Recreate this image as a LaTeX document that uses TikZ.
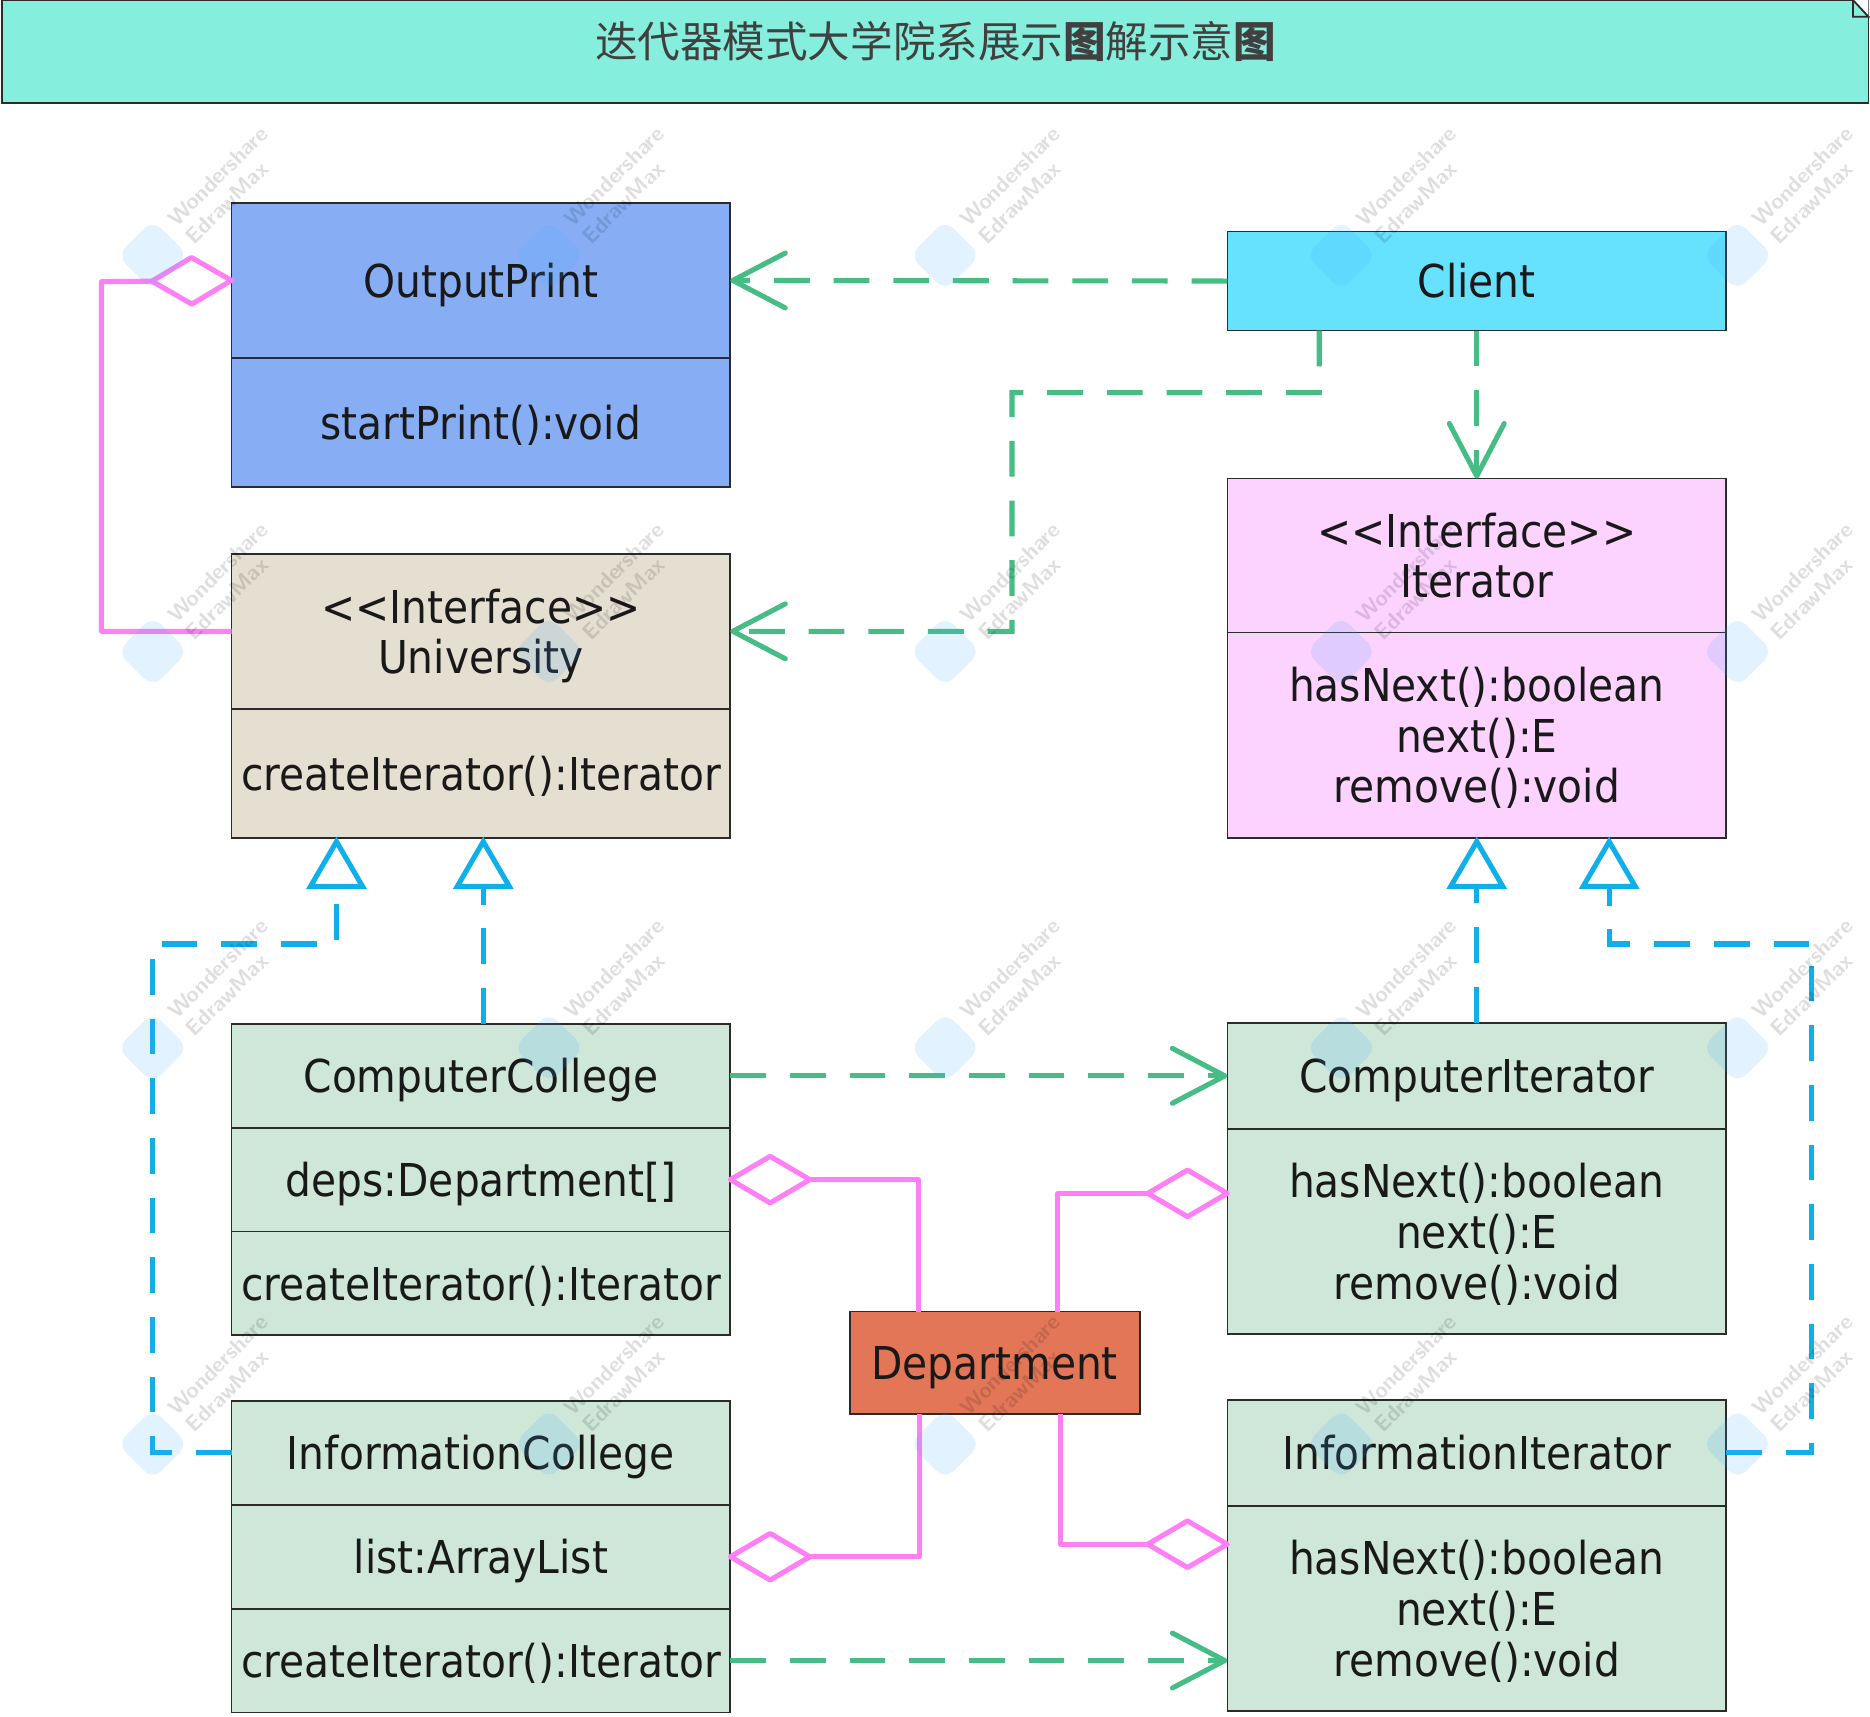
\documentclass[tikz,border=0pt]{standalone}
\usepackage{fontspec}
\setmainfont{DejaVu Sans Condensed}
\newfontfamily\cjk{Noto Sans CJK SC}
\usetikzlibrary{positioning,arrows.meta}
\definecolor{titlecol}{HTML}{85EEDC}
\definecolor{printcol}{HTML}{87AEF5}
\definecolor{clientcol}{HTML}{66E2FF}
\definecolor{univcol}{HTML}{E5DFD1}
\definecolor{itercol}{HTML}{FCD2FF}
\definecolor{implcol}{HTML}{CEE7D9}
\definecolor{deptcol}{HTML}{E27657}
\definecolor{boxline}{HTML}{2B2B2B}
\definecolor{deplinecol}{HTML}{46BD85}
\definecolor{aggrcol}{HTML}{FF80F5}
\definecolor{reallinecol}{HTML}{0FB0EA}
\definecolor{markcol}{HTML}{3FA9FF}
\newcommand{\firstline}{\rule{0pt}{21.3pt}}
\newcommand{\methods}{\firstline hasNext():boolean\\next():E\\remove():void}
\newcommand{\stereotype}{\firstline <{}<Interface>{}>}
\tikzset{
	umlbox/.style={draw=boxline,line width=0.03cm,minimum width=8.36cm,inner sep=0pt,outer sep=0pt,align=center,text=black!90,font=\fontsize{21.6}{24.2}\selectfont,
		execute at begin node={\rule{0pt}{21pt}},execute at end node={\rule[-5pt]{0pt}{5pt}}},
	depline/.style={draw=deplinecol,line width=0.085cm,dash pattern=on 0.6cm off 0.4cm,-{Straight Barb[round,length=0.88cm,width=0.92cm]}},
	aggrline/.style={draw=aggrcol,line width=0.085cm,line join=round,-{Diamond[open,fill=white,round,length=1.5cm,width=0.88cm,sep=-0.04cm]}},
	realline/.style={draw=reallinecol,line width=0.085cm,dash pattern=on 0.6cm off 0.4cm,-{Triangle[open,fill=white,length=0.88cm,width=1cm,sep=-0.02cm]}},
}
\begin{document}
\begin{tikzpicture}[x=0.02cm,y=-0.02cm]
	\useasboundingbox (0,0) rectangle (1567,1438);
	% title
	\node[draw=boxline,line width=0.03cm,fill=titlecol,minimum width=31.28cm,minimum height=1.72cm,inner sep=0pt,outer sep=0pt,anchor=north west] (title) at (2,0) {};
	\node[font=\cjk\fontsize{20.3}{24}\selectfont,text=black!75,inner sep=0pt] (titletext) at (784,35) {迭代器模式大学院系展示{\bfseries 图}解示意{\bfseries 图}};
	\fill[white] (title.north east) -- ++(-13,0) -- ++(13,14) -- cycle;
	\draw[boxline,line width=0.03cm] ([xshift=-0.26cm]title.north east) -- ++(0,14) -- ++(13,0) -- cycle;
	% left column
	\node[umlbox,fill=printcol,minimum height=2.6cm,anchor=north west] (printhead) at (194,170) {OutputPrint};
	\node[umlbox,fill=printcol,minimum height=2.16cm,below=0pt of printhead] (printbody) {startPrint():void};
	\node[umlbox,fill=univcol,minimum height=2.6cm,anchor=north west] (univhead) at (194,464) {\stereotype\\University};
	\node[umlbox,fill=univcol,minimum height=2.16cm,below=0pt of univhead] (univbody) {createIterator():Iterator};
	\node[umlbox,fill=implcol,minimum height=1.74cm,anchor=north west] (cchead) at (194,858) {ComputerCollege};
	\node[umlbox,fill=implcol,minimum height=1.74cm,below=0pt of cchead] (ccdeps) {deps:Department[]};
	\node[umlbox,fill=implcol,minimum height=1.74cm,below=0pt of ccdeps] (ccbody) {createIterator():Iterator};
	\node[umlbox,fill=implcol,minimum height=1.74cm,anchor=north west] (ichead) at (194,1174) {InformationCollege};
	\node[umlbox,fill=implcol,minimum height=1.74cm,below=0pt of ichead] (iclist) {list:ArrayList};
	\node[umlbox,fill=implcol,minimum height=1.74cm,below=0pt of iclist] (icbody) {createIterator():Iterator};
	% right column
	\node[umlbox,fill=clientcol,minimum height=1.66cm,anchor=north west] (client) at (1028.5,194) {Client};
	\node[umlbox,fill=itercol,minimum height=2.58cm,anchor=north west] (iterhead) at (1028.5,401) {\stereotype\\Iterator};
	\node[umlbox,fill=itercol,minimum height=3.44cm,below=0pt of iterhead] (iterbody) {\methods};
	\node[umlbox,fill=implcol,minimum height=1.78cm,anchor=north west] (cihead) at (1028.5,857) {ComputerIterator};
	\node[umlbox,fill=implcol,minimum height=3.44cm,below=0pt of cihead] (cibody) {\methods};
	\node[umlbox,fill=implcol,minimum height=1.78cm,anchor=north west] (iihead) at (1028.5,1173) {InformationIterator};
	\node[umlbox,fill=implcol,minimum height=3.44cm,below=0pt of iihead] (iibody) {\methods};
	\node[umlbox,fill=deptcol,minimum width=4.86cm,minimum height=1.72cm,anchor=north west] (dept) at (712,1099) {Department};
	% dependencies
	\draw[depline] (client.west) -- (printhead.east);
	\draw[depline] ([xshift=-2.64cm]client.south) -- ++(0,52) -| (848,529) -- (univhead.east);
	\draw[depline] (client.south) -- (iterhead.north);
	\draw[depline] (cchead.east) -- (cchead.east -| cihead.west);
	\draw[depline] (icbody.east) -- (icbody.east -| iibody.west);
	% aggregations
	\draw[aggrline] (univhead.west) -| (85,236) -- (printhead.west);
	\draw[aggrline] ([xshift=-1.28cm]dept.north) |- (ccdeps.east);
	\draw[aggrline] ([xshift=1.06cm]dept.north) |- ([yshift=0.64cm]cibody.west);
	\draw[aggrline] ([xshift=-1.26cm]dept.south) |- (iclist.east);
	\draw[aggrline] ([xshift=1.1cm]dept.south) |- ([yshift=1.08cm]iibody.west);
	% realizations
	\draw[realline] ([xshift=0.04cm]cchead.north) -- ([xshift=0.04cm]univbody.south);
	\draw[realline] (ichead.west) -| (128,791) -| ([xshift=-2.42cm]univbody.south);
	\draw[realline] (cihead.north) -- (iterbody.south);
	\draw[realline] (iihead.east) -| (1518,791) -| ([xshift=2.22cm]iterbody.south);
	% marks of the drawing program
	\foreach \col in {0,...,4} {
		\foreach \row in {0,...,3} {
			\begin{scope}[shift={({128+332*\col},{214+332*\row})}]
				\node[rotate=45,fill=markcol,opacity=0.15,rounded corners=0.2cm,minimum size=0.84cm,inner sep=0pt] (blob\col\row) at (0,0) {};
				\node[rotate=45,opacity=0.13,align=left,font=\sffamily\bfseries\fontsize{10.5}{12}\selectfont,inner sep=0pt] (mark\col\row) at (62,-59) {Wondershare\\EdrawMax};
			\end{scope}
		}
	}
\end{tikzpicture}
\end{document}
